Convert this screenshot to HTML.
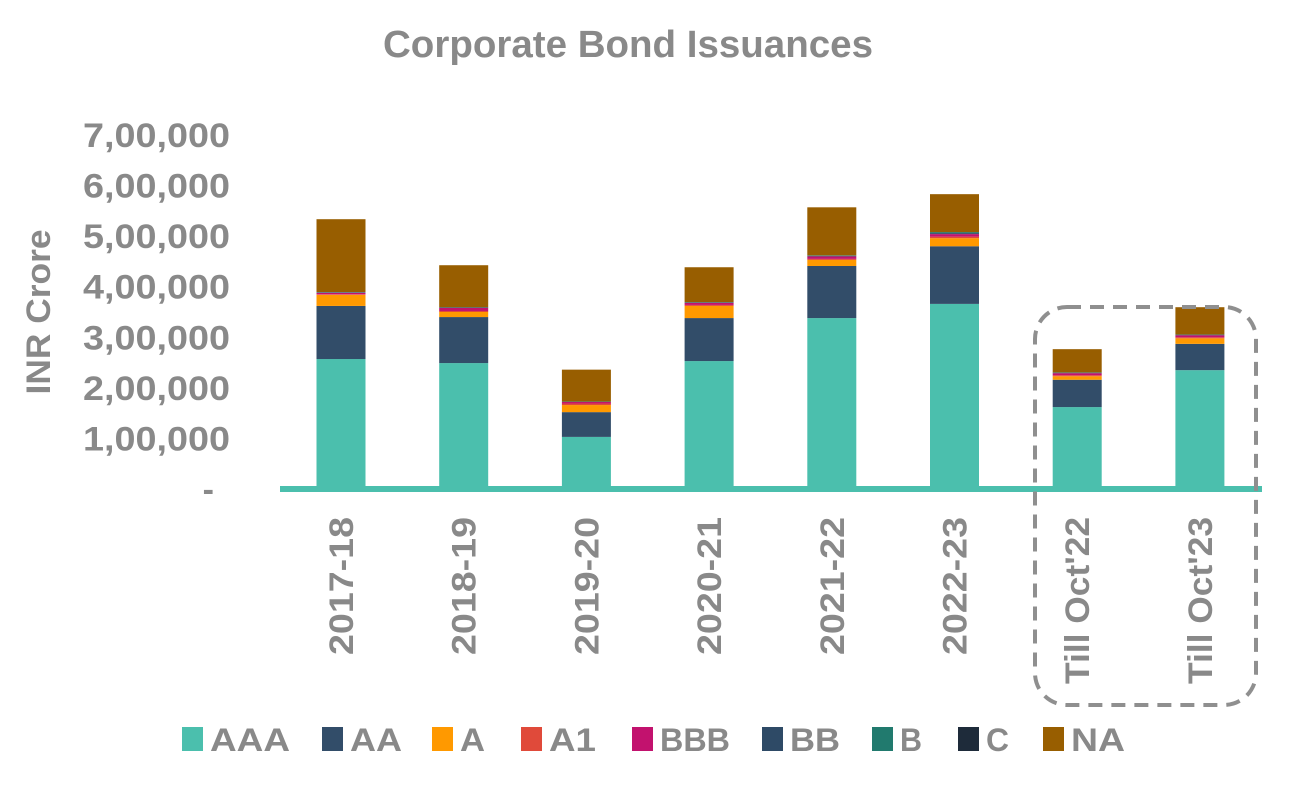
<!DOCTYPE html>
<html><head><meta charset="utf-8"><style>
body{margin:0;background:#fff;}
svg{display:block;font-family:"Liberation Sans Narrow","Liberation Sans",sans-serif;font-weight:bold;}
</style></head><body>
<svg id="chart" width="1300" height="787" viewBox="0 0 1300 787" xmlns="http://www.w3.org/2000/svg">
<text x="628" y="57" text-anchor="middle" font-size="38" fill="#898989" textLength="490" lengthAdjust="spacingAndGlyphs">Corporate Bond Issuances</text>
<text transform="translate(50,312) rotate(-90)" text-anchor="middle" font-size="34" fill="#898989" textLength="165" lengthAdjust="spacingAndGlyphs">INR Crore</text>
<g id="yticks"></g><g id="bars"></g><g id="xlabels"></g>
<rect x="280" y="486" width="982" height="6" fill="#4BBFAD"/>
<rect x="1035" y="307" width="221" height="398" rx="32" ry="32" fill="none" stroke="#8f8f8f" stroke-width="4" stroke-dasharray="14,9"/>
<g id="legend"></g>
</svg>
<script>
const categories=["2017-18","2018-19","2019-20","2020-21","2021-22","2022-23","Till Oct'22","Till Oct'23"];
const seriesNames=["AAA","AA","A","A1","BBB","BB","B","C","NA"];
const seriesColors=["#4BBFAD","#324D69","#FF9900","#E04A3A","#C2126E","#2E4A66","#217A6E","#1E2B3A","#985E00"];
const AAA=[257000,249000,103000,253000,338000,366000,162000,235000];
const AA=[105000,91000,49000,85000,103000,114000,54000,52000];
const A=[22000,10000,14000,24000,12000,16000,7000,11000];
const A1=[1000,2000,3000,2000,2000,3000,2000,2000];
const BBB=[3000,6000,3000,4000,5000,5000,4000,4000];
const BB=[1000,1000,500,1000,1000,2000,1000,1000];
const B=[500,500,500,500,1000,2000,500,500];
const C=[0,0,0,0,0,0,0,0];
const NA=[144000,83000,63000,69000,95000,75000,46000,54000];
const yTicks=[0,100000,200000,300000,400000,500000,600000,700000];
const yTickLabels=["-","1,00,000","2,00,000","3,00,000","4,00,000","5,00,000","6,00,000","7,00,000"];
const series=[AAA,AA,A,A1,BBB,BB,B,C,NA];
const NS="http://www.w3.org/2000/svg";
const y0=489, pxPer=354/700000;
function yScale(v){return y0-v*pxPer;}
function xScale(i){return 341+i*122.7;}
const bw=49;
function mk(tag,attrs,parent){const e=document.createElementNS(NS,tag);for(const k in attrs)e.setAttribute(k,attrs[k]);parent.appendChild(e);return e;}
const yt=document.getElementById('yticks');
yTicks.forEach((v,i)=>{
 const t=mk('text',{x:230,y:yScale(v)+12,'text-anchor':'end','font-size':34,fill:'#898989'},yt);
 
 
 if(i>0){t.setAttribute('textLength',147);t.setAttribute('lengthAdjust','spacingAndGlyphs');}
 else{t.setAttribute('x',214);}
 t.textContent=yTickLabels[i];
});
const bg=document.getElementById('bars');
categories.forEach((c,i)=>{
 let cum=0;
 series.forEach((s,k)=>{
  const v=s[i]; if(v<=0)return;
  const r=mk('rect',{x:xScale(i)-bw/2,y:yScale(cum+v),width:bw,height:v*pxPer,fill:seriesColors[k]},bg);
  
  
  cum+=v;
 });
});
const xl=document.getElementById('xlabels');
categories.forEach((c,i)=>{
 const x=xScale(i)+12;
 const t=mk('text',{transform:'translate('+x+',517) rotate(-90)','text-anchor':'end','font-size':34,fill:'#898989'},xl);
 
 
 t.setAttribute('textLength',c.length>8?167:138);
 t.setAttribute('lengthAdjust','spacingAndGlyphs');
 t.textContent=c;
});
const lg=document.getElementById('legend');
const lx=[182,322,432,521,632,762,872,958,1043];
const lw=[80,52,25,47,70,50,22,23,54];
seriesNames.forEach((n,k)=>{
 const g=mk('g',{},lg);
 
 
 mk('rect',{x:lx[k],y:727,width:21,height:24,fill:seriesColors[k]},g);
 const t=mk('text',{x:lx[k]+28,y:751,'font-size':32,fill:'#898989',textLength:lw[k],lengthAdjust:'spacingAndGlyphs'},g);
 t.textContent=n;
});
</script>
</body></html>
